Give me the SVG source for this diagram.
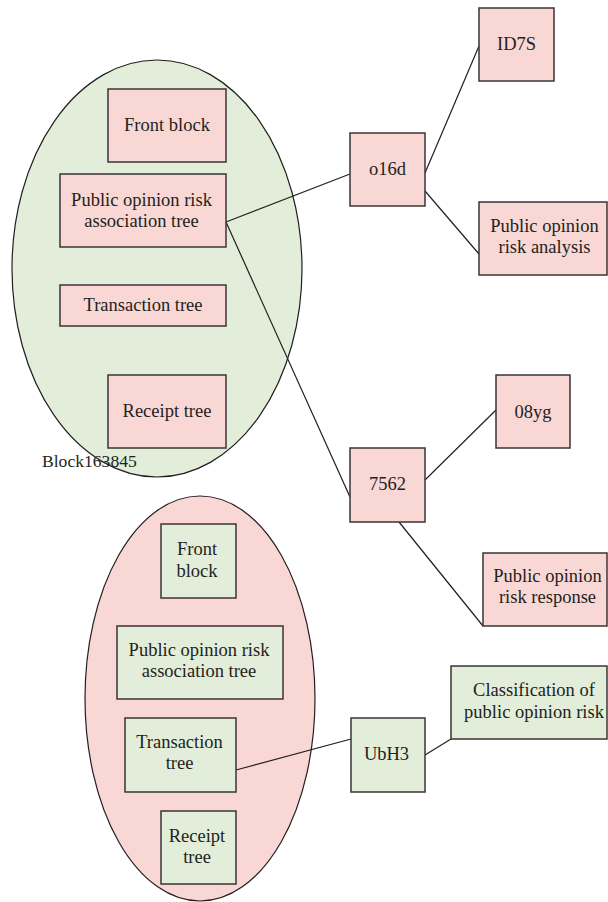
<svg xmlns="http://www.w3.org/2000/svg" width="608" height="902" viewBox="0 0 608 902">
<style>
text{font-family:"Liberation Serif","Times New Roman",serif;font-size:18.5px;fill:#231f20;text-anchor:middle}
.pk{fill:#f9d7d4;stroke:#3a3535;stroke-width:1.5}
.gr{fill:#e2edda;stroke:#3a3535;stroke-width:1.5}
.ell{stroke:#231f20;stroke-width:1.2}
.conn line{stroke:#231f20;stroke-width:1.2}
</style>
<rect width="608" height="902" fill="#ffffff"/>
<g id="block163845">
<ellipse class="ell" cx="157" cy="268.5" rx="145" ry="208.5" fill="#e2edda"/>
<text x="42" y="467" style="text-anchor:start;font-size:17.6px">Block163845</text>
</g>
<g id="block2">
<ellipse class="ell" cx="200" cy="698.5" rx="115" ry="202.5" fill="#f9d7d4"/>
</g>
<g id="connectors" class="conn">
<line x1="226" y1="222" x2="350" y2="174"/>
<line x1="226" y1="222" x2="350" y2="497"/>
<line x1="425" y1="173" x2="479" y2="46"/>
<line x1="425" y1="191" x2="479" y2="254"/>
<line x1="425" y1="480" x2="496" y2="410"/>
<line x1="399" y1="522" x2="483" y2="626"/>
<line x1="236" y1="770" x2="351" y2="739"/>
<line x1="425" y1="755" x2="451" y2="739"/>
</g>
<g id="front1"><rect class="pk" x="108" y="89" width="118" height="73"/><text x="167" y="131">Front block</text></g>
<g id="pora1"><rect class="pk" x="60" y="174" width="166" height="73"/><text x="141.5" y="205.5">Public opinion risk</text><text x="141.5" y="226.5">association tree</text></g>
<g id="trans1"><rect class="pk" x="60" y="285" width="166" height="41"/><text x="143" y="310.5">Transaction tree</text></g>
<g id="receipt1"><rect class="pk" x="108" y="375" width="118" height="73"/><text x="167" y="416.5">Receipt tree</text></g>
<g id="o16d"><rect class="pk" x="350" y="133" width="75" height="73"/><text x="387.5" y="174.5">o16d</text></g>
<g id="ID7S"><rect class="pk" x="479" y="8" width="75" height="73"/><text x="516.5" y="50">ID7S</text></g>
<g id="analysis"><rect class="pk" x="479" y="202" width="128" height="73"/><text x="544.5" y="232">Public opinion</text><text x="544.5" y="253">risk analysis</text></g>
<g id="n7562"><rect class="pk" x="350" y="448" width="75" height="74"/><text x="387.5" y="490">7562</text></g>
<g id="n08yg"><rect class="pk" x="496" y="375" width="74" height="73"/><text x="533" y="418">08yg</text></g>
<g id="response"><rect class="pk" x="483" y="553" width="124" height="73"/><text x="547.5" y="582">Public opinion</text><text x="547.5" y="603">risk response</text></g>
<g id="front2"><rect class="gr" x="161" y="524" width="75" height="74"/><text x="197" y="555">Front</text><text x="197" y="577">block</text></g>
<g id="pora2"><rect class="gr" x="117" y="626" width="166" height="73"/><text x="199" y="656">Public opinion risk</text><text x="199" y="677">association tree</text></g>
<g id="trans2"><rect class="gr" x="125" y="718" width="111" height="74"/><text x="179.5" y="748">Transaction</text><text x="179.5" y="769">tree</text></g>
<g id="receipt2"><rect class="gr" x="161" y="811" width="75" height="73"/><text x="197" y="842">Receipt</text><text x="197" y="863">tree</text></g>
<g id="UbH3"><rect class="gr" x="351" y="718" width="74" height="74"/><text x="386.5" y="760">UbH3</text></g>
<g id="classification"><rect class="gr" x="451" y="666" width="156" height="73"/><text x="534" y="696">Classification of</text><text x="534" y="718">public opinion risk</text></g>
</svg>
